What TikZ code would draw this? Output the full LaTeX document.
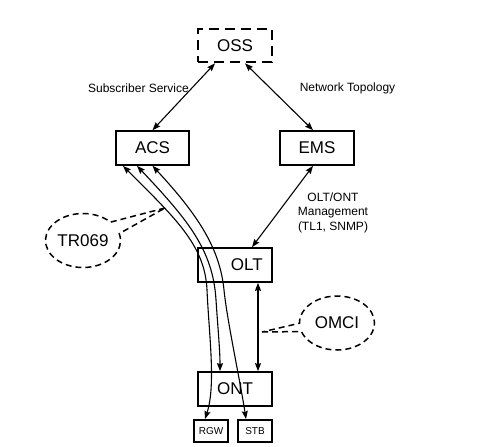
\documentclass[tikz,border=0pt]{standalone}
\usepackage{fontspec}
\setmainfont{Liberation Sans}
\usetikzlibrary{arrows.meta,shapes.callouts}

\begin{document}
\begin{tikzpicture}
    [x=1pt,y=-1pt,
     box/.style={draw,line width=2.2pt,minimum width=73.5pt,minimum height=33.5pt,inner sep=0pt,font=\fontsize{17}{20}\selectfont},
     port/.style={draw,line width=2pt,minimum width=34pt,minimum height=22pt,inner sep=0pt,font=\fontsize{10}{12}\selectfont},
     bubble/.style={ellipse callout,draw,dash pattern=on 6pt off 4pt,line width=1.5pt,minimum width=75pt,minimum height=54pt,inner sep=0pt,font=\fontsize{17}{20}\selectfont},
     lbl/.style={font=\fontsize{12}{14.5}\selectfont,align=center},
     link/.style={line width=1.1pt,{Stealth[length=8pt,width=6pt,inset=1pt]}-{Stealth[length=8pt,width=6pt,inset=1pt]}}]
    \useasboundingbox (0,0) rectangle (494,446);

    \node[box,dash pattern=on 10pt off 6pt] (oss) at (235,45.5) {OSS};
    \node[box] (acs) at (152.5,148) {ACS};
    \node[box] (ems) at (317,148) {EMS};
    \node[box,inner xsep=9pt,text width=55.5pt,align=right] (olt) at (235,265) {OLT};
    \node[box] (ont) at (235,389) {ONT};
    \node[port] (rgw) at (211,431) {RGW};
    \node[port] (stb) at (255,431) {STB};

    \node[lbl] (l1) at (138.5,88) {Subscriber Service};
    \node[lbl] (l2) at (347.5,88) {Network Topology};
    \node[lbl] (l3) at (333,212.5) {OLT/ONT\\Management\\(TL1, SNMP)};

    \draw[link] (acs.north) -- ([xshift=-20pt]oss.south);
    \draw[link] ([xshift=10pt]oss.south) -- ([xshift=-4pt]ems.north);
    \draw[link] ([xshift=-4pt]ems.south) -- ([xshift=17pt]olt.north);
    \draw[link] ([xshift=23pt]olt.south) -- ([xshift=23pt]ont.north);

    % TR069 sessions from ACS down to the home side
    \draw[link] ([xshift=-29.5pt]acs.south) .. controls (175,218) and (205,245) .. (207,290)
        .. controls (209,335) and (216,385) .. ([xshift=-6pt]rgw.north);
    \draw[link] ([xshift=-15.5pt]acs.south) .. controls (188,220) and (213,250) .. (216,300)
        .. controls (218,330) and (220,350) .. ([xshift=-15pt]ont.north);
    \draw[link] (acs.south) .. controls (200,217) and (220,250) .. (224,290)
        .. controls (227,320) and (240,380) .. ([xshift=-9pt]stb.north);

    \coordinate (ta) at (165,208);
    \coordinate (tb) at (262,332);
    \node[bubble,callout absolute pointer={(ta)},callout pointer arc=28] (tr) at (83,240.5) {TR069};
    \node[bubble,callout absolute pointer={(tb)},callout pointer arc=18] (omci) at (337,323) {OMCI};
\end{tikzpicture}
\end{document}
